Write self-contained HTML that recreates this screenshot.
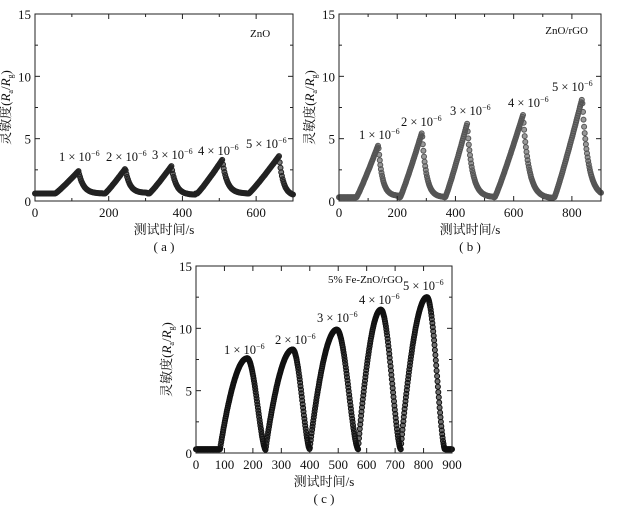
<!DOCTYPE html>
<html><head><meta charset="utf-8"><style>
body{margin:0;background:#fff;width:626px;height:508px;overflow:hidden}
svg{display:block}
text{font-family:"Liberation Serif","Noto Serif CJK SC",serif;fill:#111}
</style></head><body>
<svg id="s" width="626" height="508" xmlns="http://www.w3.org/2000/svg"></svg>
<script>
const S=document.getElementById('s');let out='';
function panel(o){
 const {x0,x1,y0,y1,xmax,xt,xminor,col,segs,base}=o;
 const X=v=>x0+(x1-x0)*v/xmax, Y=v=>y0-(y0-y1)*v/15;
 let g='';
 let pts=[];
 for(let t=0;t<=xmax;t+=o.step){
  let v=base;
  for(const s of segs){
   const [a,p,pv,e,ev,shape]=s;
   if(t>=a&&t<=p){let f=(t-a)/(p-a);v=base+(pv-base)*(shape==='c'?Math.pow(Math.sin(f*Math.PI/2),0.9):Math.pow(f,1.1));}
   else if(t>p&&t<=e){let f=(t-p)/(e-p);
     if(o.decay==='lin'){v=ev+(pv-ev)*Math.pow(Math.cos(f*Math.PI/2),1.6);}
     else v=ev+(pv-ev)*Math.exp(-f*5);}
  }
  pts.push([t,v]);
 }
 for(const [t,v] of pts) g+=`<circle cx="${X(t).toFixed(1)}" cy="${Y(v).toFixed(1)}" r="2.5" fill="${col}" fill-opacity="0.6" stroke="${col}" stroke-width="1"/>`;
 g+=`<rect x="${x0}" y="${y1}" width="${x1-x0}" height="${y0-y1}" fill="none" stroke="#222" stroke-width="1"/>`;
 for(let v=0;v<=xmax;v+=xminor){const maj=v%xt===0;const L=maj?5:3;
  g+=`<line x1="${X(v)}" x2="${X(v)}" y1="${y0}" y2="${y0-L}" stroke="#222"/><line x1="${X(v)}" x2="${X(v)}" y1="${y1}" y2="${y1+L}" stroke="#222"/>`;
  if(maj)g+=`<text x="${X(v)}" y="${y0+16}" font-size="13" text-anchor="middle">${v}</text>`;}
 for(let v=0;v<=15;v+=2.5){const maj=v%5===0;const L=maj?5:3;
  g+=`<line x1="${x0}" x2="${x0+L}" y1="${Y(v)}" y2="${Y(v)}" stroke="#222"/><line x1="${x1}" x2="${x1-L}" y1="${Y(v)}" y2="${Y(v)}" stroke="#222"/>`;
  if(maj)g+=`<text x="${x0-4}" y="${Y(v)+5}" font-size="13" text-anchor="end">${v}</text>`;}
 const cx=(x0+x1)/2;
 g+=`<text x="${cx}" y="${y0+33}" font-size="13" text-anchor="middle">测试时间/s</text>`;
 g+=`<text x="${cx}" y="${y0+50}" font-size="13" text-anchor="middle">( ${o.tag} )</text>`;
 const ly=(y0+y1)/2;
 g+=`<text transform="translate(${x0-25},${ly}) rotate(-90)" font-size="13" text-anchor="middle">灵敏度(<tspan font-style="italic">R</tspan><tspan font-size="8" dy="3">a</tspan><tspan dy="-3">/</tspan><tspan font-style="italic">R</tspan><tspan font-size="8" dy="3">g</tspan><tspan dy="-3">)</tspan></text>`;
 g+=`<text x="${o.title[0]}" y="${o.title[1]}" font-size="11" text-anchor="${o.title[3]||'start'}">${o.title[2]}</text>`;
 o.labels.forEach((l,i)=>{g+=`<text x="${l[0]}" y="${l[1]}" font-size="12.5">${i+1} × 10<tspan font-size="8" dy="-5">−6</tspan></text>`;});
 out+=g;
}
panel({x0:35,x1:293,y0:201,y1:14,xmax:700,xt:200,xminor:100,col:'#222',base:0.6,step:2,tag:'a',
 segs:[[55,118,2.4,185,0.6],[190,245,2.6,305,0.65],[310,370,2.8,435,0.5],[440,508,3.3,575,0.6],[580,662,3.6,720,0.4]],
 title:[250,37,'ZnO'],labels:[[59,161],[106,161],[152,159],[198,155],[246,148]]});
panel({x0:339,x1:601,y0:201,y1:14,xmax:900,xt:200,xminor:100,col:'#555',base:0.3,step:2,tag:'b',
 segs:[[60,135,4.5,205,0.4],[210,285,5.5,360,0.3],[365,440,6.2,530,0.3],[535,632,6.9,735,0.2],[740,835,8.2,940,0.3]],
 title:[588,34,'ZnO/rGO','end'],labels:[[359,139],[401,126],[450,115],[508,107],[552,91]]});
panel({x0:196,x1:452,y0:453,y1:266,xmax:900,xt:100,xminor:100,col:'#111',base:0.3,step:1.5,tag:'c',decay:'lin',
 segs:[[85,180,7.6,245,0.25,'c'],[245,340,8.3,400,0.3,'c'],[400,495,9.9,570,0.3,'c'],[570,650,11.5,720,0.3,'c'],[720,812,12.5,875,0.3,'c']],
 title:[328,283,'5% Fe-ZnO/rGO'],labels:[[224,354],[275,344],[317,322],[359,304],[403,290]]});
S.innerHTML=out;
</script>
</body></html>
